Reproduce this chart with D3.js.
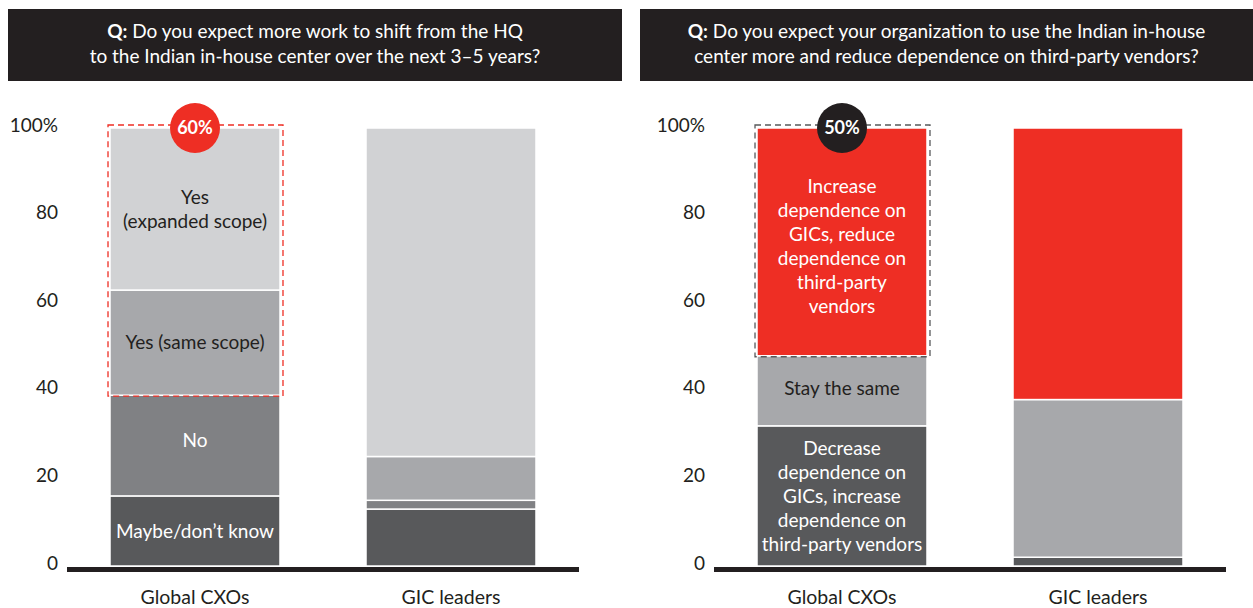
<!DOCTYPE html>
<style>
body { margin: 0; background: #fff; }
text { font-family: Lato, "Noto Sans", sans-serif; }
</style>
<svg width="1253" height="608"></svg>
<script src="https://d3js.org/d3.v7.min.js"></script>
<script>

var categories = ["Global CXOs", "GIC leaders"];
var yTicks = [0, 20, 40, 60, 80, 100];

// left panel: shift of work to the Indian in-house center
var shiftKeys = ["Maybe/don’t know", "No", "Yes (same scope)", "Yes (expanded scope)"];
var shiftCXO = [16, 23, 24, 37];
var shiftGIC = [13, 2, 10, 75];
var shiftLabels = [["Maybe/don’t know"], ["No"], ["Yes (same scope)"], ["Yes", "(expanded scope)"]];

// right panel: dependence on GICs vs third-party vendors
var dependKeys = ["Decrease", "Stay the same", "Increase"];
var dependCXO = [32, 16, 52];
var dependGIC = [2, 36, 62];
var dependLabels = [
  ["Decrease", "dependence on", "GICs, increase", "dependence on", "third-party vendors"],
  ["Stay the same"],
  ["Increase", "dependence on", "GICs, reduce", "dependence on", "third-party", "vendors"]
];

var svg = d3.select("svg");
var ink = "#231f20", red = "#ee2e24";

var y = d3.scaleLinear().domain([0, 100]).range([566, 128]);

function toRows(keys, a, b) {
  return categories.map(function(c, j) {
    var row = {cat: c}, vals = j === 0 ? a : b;
    keys.forEach(function(k, i) { row[k] = vals[i]; });
    return row;
  });
}

function panel(opt) {
  var g = svg.append("g");

  // header
  g.append("rect")
      .attr("x", opt.hx).attr("y", 9)
      .attr("width", opt.hw).attr("height", 72)
      .attr("fill", ink);
  var ht = g.append("text")
      .attr("text-anchor", "middle")
      .attr("fill", "#fff")
      .attr("font-size", 19);
  var l1 = ht.append("tspan").attr("x", opt.hx + opt.hw / 2).attr("y", 38);
  l1.append("tspan").attr("font-weight", "bold").text("Q:");
  l1.append("tspan").text(" " + opt.q[0]);
  ht.append("tspan").attr("x", opt.hx + opt.hw / 2).attr("y", 63).text(opt.q[1]);

  var x = d3.scaleBand()
      .domain(categories)
      .range(opt.xr)
      .paddingInner(0.336)
      .paddingOuter(0.168);

  var series = d3.stack().keys(opt.keys)(toRows(opt.keys, opt.a, opt.b));

  // tick labels
  g.append("g")
      .attr("font-size", 19)
      .attr("fill", ink)
      .attr("text-anchor", "end")
    .selectAll("text")
    .data(yTicks)
    .join("text")
      .attr("x", opt.tx)
      .attr("y", function(d) { return y(d) - 3; })
      .attr("dy", "0.35em")
      .text(function(d) { return d === 100 ? "100%" : d; });

  // bars
  g.append("g")
    .selectAll("g")
    .data(series)
    .join("g")
      .attr("fill", function(d, i) { return opt.colors[i]; })
    .selectAll("rect")
    .data(function(d) { return d; })
    .join("rect")
      .attr("x", function(d) { return x(d.data.cat); })
      .attr("y", function(d) { return y(d[1]); })
      .attr("height", function(d) { return y(d[0]) - y(d[1]); })
      .attr("width", x.bandwidth())
      .attr("stroke", "#fff")
      .attr("stroke-width", 1.5);

  // segment labels (first category only)
  series.forEach(function(s, i) {
    var d = s[0], lines = opt.labels[i];
    var cy = y((d[0] + d[1]) / 2) + opt.labelShift[i];
    var t = g.append("text")
        .attr("text-anchor", "middle")
        .attr("font-size", 19)
        .attr("fill", opt.textColors[i]);
    lines.forEach(function(line, k) {
      t.append("tspan")
          .attr("x", x(categories[0]) + x.bandwidth() / 2)
          .attr("y", cy + (k - (lines.length - 1) / 2) * 24)
          .attr("dy", "0.35em")
          .text(line);
    });
  });

  // dashed highlight box
  var lo = series[opt.boxFrom][0][0];
  g.append("rect")
      .attr("x", x(categories[0]) - 2)
      .attr("y", y(100) - 3)
      .attr("width", x.bandwidth() + 5)
      .attr("height", y(lo) - y(100) + 4)
      .attr("fill", "none")
      .attr("stroke", opt.boxColor)
      .attr("stroke-width", 1.3)
      .attr("stroke-dasharray", "6,4");

  // badge
  var bx = x(categories[0]) + x.bandwidth() / 2;
  g.append("circle")
      .attr("cx", bx).attr("cy", y(100))
      .attr("r", 25)
      .attr("fill", opt.badgeColor);
  g.append("text")
      .attr("x", bx).attr("y", y(100))
      .attr("dy", "0.35em")
      .attr("text-anchor", "middle")
      .attr("font-size", 18)
      .attr("font-weight", "bold")
      .attr("fill", "#fff")
      .text(opt.badge);

  // baseline
  g.append("rect")
      .attr("x", opt.xr[0]).attr("y", 567)
      .attr("width", opt.xr[1] - opt.xr[0]).attr("height", 5)
      .attr("fill", ink);

  // category labels
  g.append("g")
      .attr("font-size", 19.5)
      .attr("fill", ink)
      .attr("text-anchor", "middle")
    .selectAll("text")
    .data(categories)
    .join("text")
      .attr("x", function(d) { return x(d) + x.bandwidth() / 2; })
      .attr("y", 597)
      .attr("dy", "0.35em")
      .text(function(d) { return d; });
}

panel({
  hx: 8, hw: 614,
  q: ["Do you expect more work to shift from the HQ", "to the Indian in-house center over the next 3–5 years?"],
  xr: [67, 579], tx: 58,
  keys: shiftKeys, a: shiftCXO, b: shiftGIC, labels: shiftLabels,
  labelShift: [0, -5, 0, 0],
  colors: ["#58595b", "#808184", "#a7a8ab", "#d1d2d4"],
  textColors: ["#fff", "#fff", ink, ink],
  boxFrom: 2, boxColor: red,
  badge: "60%", badgeColor: red
});

panel({
  hx: 640, hw: 613,
  q: ["Do you expect your organization to use the Indian in-house", "center more and reduce dependence on third-party vendors?"],
  xr: [714, 1226], tx: 705,
  keys: dependKeys, a: dependCXO, b: dependGIC, labels: dependLabels,
  labelShift: [0, -2, 4],
  colors: ["#58595b", "#a7a8ab", red],
  textColors: ["#fff", ink, "#fff"],
  boxFrom: 2, boxColor: "#58595b",
  badge: "50%", badgeColor: ink
});

</script>
